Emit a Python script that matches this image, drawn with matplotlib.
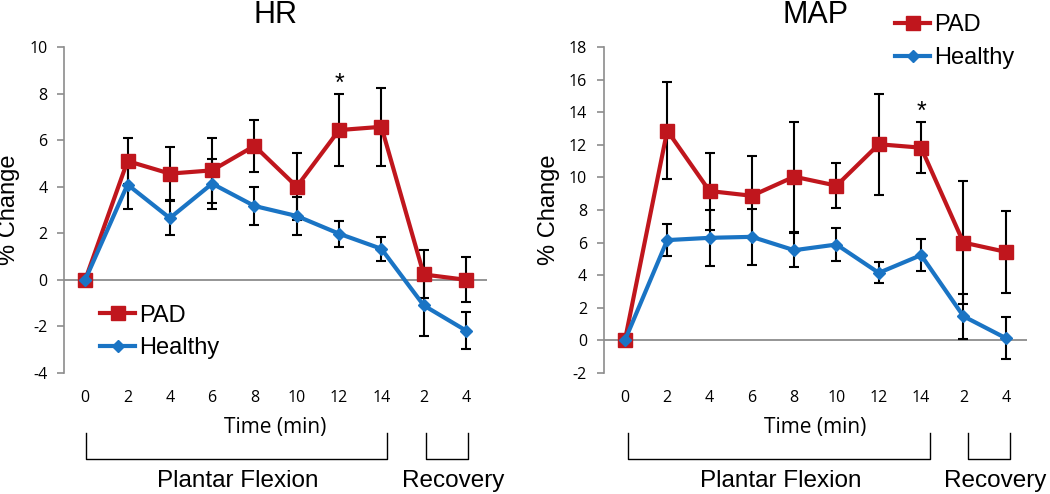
import matplotlib
matplotlib.use("Agg")
import matplotlib.pyplot as plt

# Datos
etiquetas_x = ["0", "2", "4", "6", "8", "10", "12", "14", "2", "4"]

hr_pad = [0, 5.1, 4.56, 4.7, 5.75, 4.0, 6.43, 6.57, 0.23, 0.0]
hr_pad_err = [0, 1.0, 1.15, 1.4, 1.1, 1.43, 1.53, 1.67, 1.03, 0.97]
hr_healthy = [0, 4.09, 2.65, 4.13, 3.17, 2.74, 1.98, 1.33, -1.1, -2.18]
hr_healthy_err = [0, 1.07, 0.73, 1.07, 0.8, 0.8, 0.55, 0.52, 1.3, 0.8]

map_pad = [0, 12.87, 9.16, 8.87, 10.04, 9.49, 12.03, 11.82, 6.0, 5.43]
map_pad_err = [0, 2.95, 2.36, 2.46, 3.38, 1.37, 3.1, 1.58, 3.77, 2.51]
map_healthy = [0, 6.15, 6.29, 6.35, 5.53, 5.88, 4.14, 5.23, 1.48, 0.14]
map_healthy_err = [0, 1.0, 1.72, 1.7, 1.03, 1.0, 0.65, 0.96, 1.38, 1.28]

rojo = "#C0161D"
azul = "#1A74C4"
fuente = "Liberation Sans"
fuente_ticks = "Open Sans"

plt.rcParams["axes.unicode_minus"] = False

fig = plt.figure(figsize=(10.5, 4.94), dpi=100)
ax1 = fig.add_axes([0.061, 0.245, 0.403, 0.660])
ax2 = fig.add_axes([0.575, 0.245, 0.403, 0.660])


def dibujar(ax, titulo, pad, pad_err, healthy, healthy_err, ylim, yticks,
            estrella, leg_pos, brackets, textos_x):
    x = list(range(len(etiquetas_x)))
    ax.axhline(0, color="#8c8c8c", lw=1.3, zorder=1)
    ax.errorbar(x, pad, yerr=pad_err, fmt="none", ecolor="black",
                elinewidth=1.5, capsize=3.5, capthick=1.5, zorder=2)
    ax.errorbar(x, healthy, yerr=healthy_err, fmt="none", ecolor="black",
                elinewidth=1.5, capsize=3.5, capthick=1.5, zorder=2)
    ax.plot(x, pad, color=rojo, lw=3, marker="s", ms=9.5, label="PAD", zorder=3)
    ax.plot(x, healthy, color=azul, lw=3, marker="D", ms=6.5, label="Healthy", zorder=4)

    ax.set_xlim(-0.5, 9.5)
    ax.set_ylim(*ylim)
    ax.set_yticks(yticks)
    ax.set_xticks(x)
    ax.set_xticklabels(etiquetas_x, fontfamily=fuente_ticks, fontsize=11.5)
    for t in ax.get_yticklabels():
        t.set_fontfamily(fuente_ticks)
        t.set_fontsize(11.5)
    ax.tick_params(axis="x", length=0, pad=12)
    ax.tick_params(axis="y", length=5, width=1.2, color="#8c8c8c", pad=7)

    for s in ["top", "right", "bottom"]:
        ax.spines[s].set_visible(False)
    ax.spines["left"].set_color("#8c8c8c")
    ax.spines["left"].set_linewidth(1.2)

    ax.set_title(titulo, fontfamily=fuente, fontsize=22, pad=17)
    ax.set_ylabel("% Change", fontfamily=fuente, fontsize=17)
    ax.yaxis.set_label_coords(-0.104, 0.5)

    ax.text(estrella[0], estrella[1], "*", ha="center", va="center",
            fontsize=18, fontfamily=fuente)

    ax.legend(loc="upper left", bbox_to_anchor=leg_pos, frameon=False,
              prop={"family": fuente, "size": 17}, handlelength=1.5,
              handletextpad=0.15, labelspacing=0.45, borderpad=0,
              borderaxespad=0)

    trans = ax.get_xaxis_transform()
    for (a, b) in brackets:
        ax.plot([a, a, b, b], [-0.184, -0.264, -0.264, -0.184], color="black",
                lw=1.0, transform=trans, clip_on=False)
    ax.text(4.5, -0.168, "Time (min)", transform=trans, ha="center", va="center",
            fontfamily=fuente_ticks, fontsize=15)
    ax.text(textos_x[0], -0.33, "Plantar Flexion", transform=trans, ha="center",
            va="center", fontfamily=fuente, fontsize=17.5)
    ax.text(textos_x[1], -0.33, "Recovery", transform=trans, ha="center",
            va="center", fontfamily=fuente, fontsize=17.5)


dibujar(ax1, "HR", hr_pad, hr_pad_err, hr_healthy, hr_healthy_err,
        (-4, 10), range(-4, 11, 2), (6, 8.4), (0.085, 0.21),
        [(0.02, 7.14), (8.06, 9.05)], (3.6, 8.7))
dibujar(ax2, "MAP", map_pad, map_pad_err, map_healthy, map_healthy_err,
        (-2, 18), range(-2, 19, 2), (7, 14.0), (0.688, 1.10),
        [(0.07, 7.2), (8.1, 9.1)], (3.68, 8.74))

fig.savefig("out.png", dpi=100)
